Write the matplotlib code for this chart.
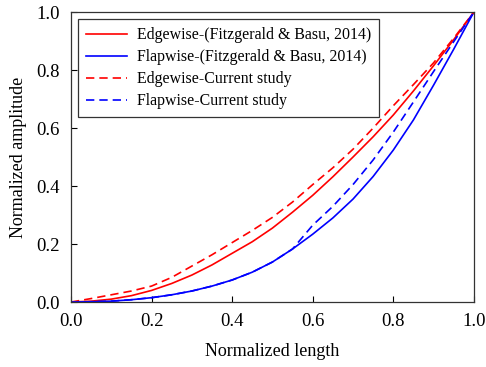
import matplotlib
matplotlib.use("Agg")
import matplotlib.pyplot as plt

plt.rcParams['font.family'] = ['Liberation Serif', 'DejaVu Serif']

# normalized length positions
x = [0.0, 0.05, 0.1, 0.15, 0.2, 0.25, 0.3, 0.35, 0.4, 0.45, 0.5,
     0.55, 0.6, 0.65, 0.7, 0.75, 0.8, 0.85, 0.9, 0.95, 1.0]

# Fitzgerald & Basu, 2014
edge_ref = [0.0, 0.003, 0.01, 0.022, 0.04, 0.064, 0.093, 0.128, 0.168, 0.208, 0.255,
            0.31, 0.368, 0.432, 0.5, 0.57, 0.645, 0.728, 0.815, 0.905, 1.0]
flap_ref = [0.0, 0.001, 0.003, 0.008, 0.015, 0.025, 0.038, 0.055, 0.076, 0.103, 0.138,
            0.183, 0.234, 0.29, 0.355, 0.433, 0.524, 0.628, 0.748, 0.872, 1.0]

# current study
edge_cur = [0.0, 0.012, 0.025, 0.038, 0.055, 0.085, 0.124, 0.163, 0.205, 0.247, 0.292,
            0.345, 0.405, 0.463, 0.527, 0.6, 0.677, 0.75, 0.825, 0.91, 1.0]
flap_cur = [0.0, 0.001, 0.003, 0.008, 0.015, 0.025, 0.038, 0.055, 0.076, 0.103, 0.138,
            0.183, 0.265, 0.33, 0.405, 0.49, 0.586, 0.69, 0.795, 0.898, 1.0]

fig = plt.figure(figsize=(4.86, 3.67), dpi=100)
ax = fig.add_axes([0.146, 0.177, 0.829, 0.790])

ax.plot(x, edge_ref, color='red', lw=1.2, label='Edgewise-(Fitzgerald & Basu, 2014)')
ax.plot(x, flap_ref, color='blue', lw=1.2, label='Flapwise-(Fitzgerald & Basu, 2014)')
ax.plot(x, edge_cur, color='red', lw=1.2, ls=(0, (5, 3)), label='Edgewise-Current study')
ax.plot(x, flap_cur, color='blue', lw=1.2, ls=(0, (5, 3)), label='Flapwise-Current study')

ax.set_xlim(0, 1)
ax.set_ylim(0, 1)
ax.set_xticks([0.0, 0.2, 0.4, 0.6, 0.8, 1.0])
ax.set_yticks([0.0, 0.2, 0.4, 0.6, 0.8, 1.0])
ax.tick_params(direction='in', top=False, right=False, labelsize=13.5, length=4, pad=8)
ax.set_xlabel('Normalized length', fontsize=13, labelpad=9)
ax.set_ylabel('Normalized amplitude', fontsize=13, labelpad=7)
for s in ax.spines.values():
    s.set_linewidth(0.9)
    s.set_color('#333333')

leg = ax.legend(loc='upper left', fontsize=11.4, fancybox=False, framealpha=1,
                edgecolor='#333333', handlelength=2.6, handletextpad=0.6,
                labelspacing=0.38, borderaxespad=0.45, borderpad=0.5)
leg.get_frame().set_linewidth(0.9)

fig.savefig('out.png', dpi=100)
